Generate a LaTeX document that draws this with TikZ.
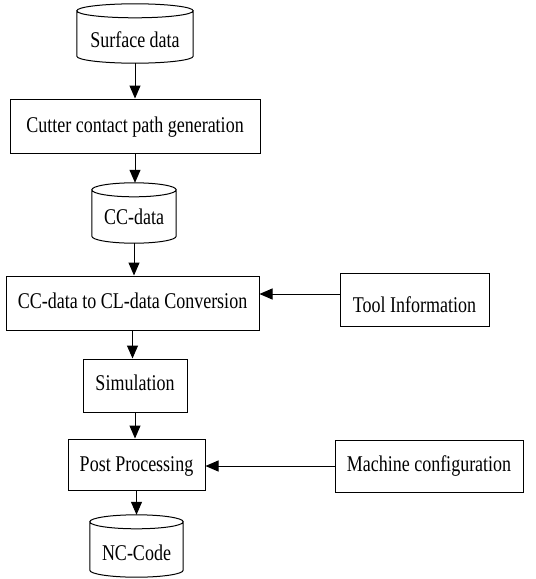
\documentclass[tikz,border=0pt]{standalone}
\usepackage{fontspec}
\usepackage{graphicx}
\setmainfont{Liberation Serif}
\usetikzlibrary{arrows.meta,calc}
% labels are set slightly taller than wide
\newcommand\tx[1]{\scalebox{1}[1.25]{#1}}
\begin{document}
\begin{tikzpicture}[x=1pt,y=-1pt,
  every node/.style={font=\fontsize{18}{20}\selectfont, inner sep=0pt},
  tp/.style args={#1/#2}{text height=#1pt, text depth=#2pt},
  procbox/.style={draw, line width=1pt, minimum width=#1},
  store/.style={minimum width=#1},
  arr/.style={line width=1pt, -{Triangle[length=13pt,width=11pt]}}]
\useasboundingbox (0,0) rectangle (536,579);

% data stores (drawn as cylinders below)
\node[store=116, minimum height=59, tp=28/1]   (surf) at (135,33.5) {\tx{Surface data}};
\node[store=84,  minimum height=60, tp=26/3]   (ccd)  at (134,213) {\tx{CC-data}};
\node[store=93,  minimum height=62, tp=28.5/0.5] (nc) at (136.5,546) {\tx{NC-Code}};

% processing steps
\node[procbox=250, minimum height=54, tp=21/8]     (cut)  at (135,126) {\tx{Cutter contact path generation}};
\node[procbox=253, minimum height=54, tp=19.5/9.5] (conv) at (132.5,303) {\tx{CC-data to CL-data Conversion}};
\node[procbox=149, minimum height=53, tp=27.5/1.5] (tool) at (414.5,299.5) {\tx{Tool Information}};
\node[procbox=104, minimum height=53, tp=19/10]    (sim)  at (135,385.5) {\tx{Simulation}};
\node[procbox=137, minimum height=51, tp=21.5/7.5] (post) at (136.5,464.5) {\tx{Post Processing}};
\node[procbox=188, minimum height=52, tp=20/9]     (mach) at (429,466) {\tx{Machine configuration}};

% cylinder outlines around the store nodes
\foreach \s in {surf,ccd,nc}{
  \draw[line width=1pt]
    let \p1=(\s.north west), \p2=(\s.south east), \n1={(\x2-\x1)/2} in
    (\x1,\y1-7pt) -- (\x1,\y2+7pt)
    arc[start angle=180, end angle=360, x radius=\n1, y radius=7pt]
    -- (\x2,\y1-7pt)
    (\x1+\n1,\y1-7pt) ellipse[x radius=\n1, y radius=7pt];
}

% flow
\draw[arr] (surf.south) -- (surf.south |- cut.north);
\draw[arr] (cut.south) -- (cut.south |- ccd.north);
\draw[arr] (ccd.south) -- (ccd.south |- conv.north);
\draw[arr] (conv.south) -- (conv.south |- sim.north);
\draw[arr] (sim.south) -- (sim.south |- post.north);
\draw[arr] (post.south) -- (post.south |- nc.north);
\draw[arr] ([yshift=5.5pt]tool.west) -- ([yshift=5.5pt]tool.west -| conv.east);
\draw[arr] (mach.west) -- (mach.west -| post.east);
\end{tikzpicture}
\end{document}
